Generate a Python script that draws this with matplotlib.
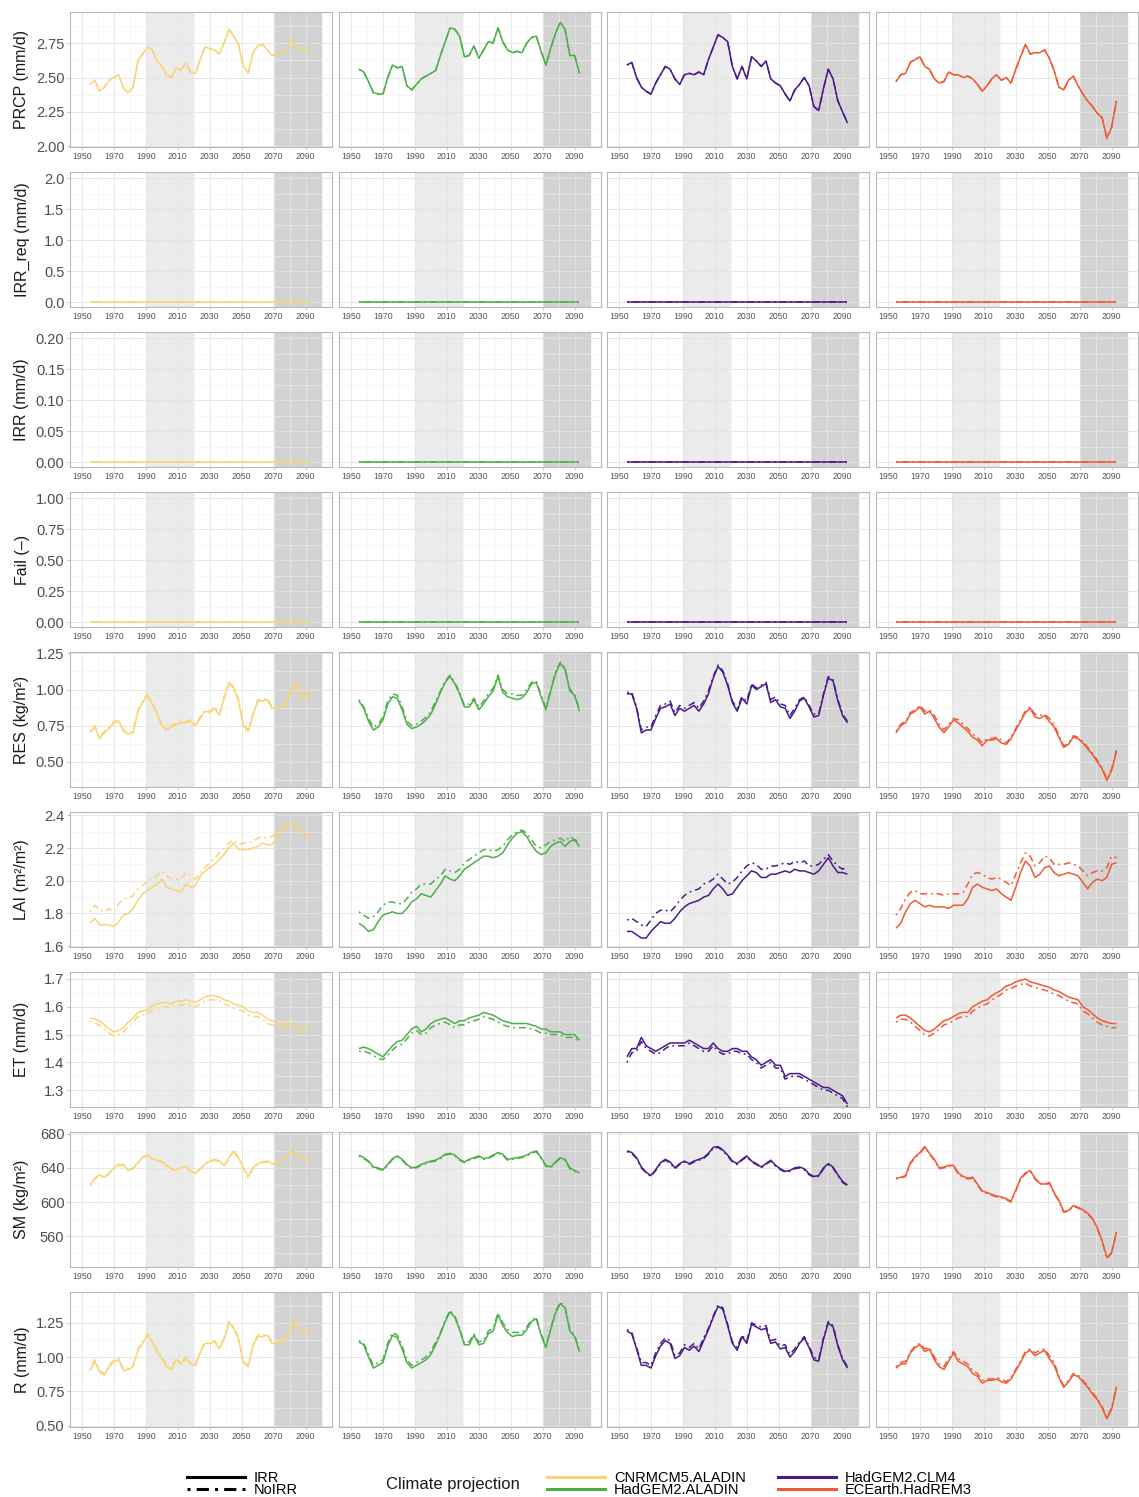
import numpy as np
import matplotlib
matplotlib.use("Agg")
import matplotlib.pyplot as plt
from matplotlib.lines import Line2D

plt.rcParams['font.family'] = ['Liberation Sans', 'DejaVu Sans']

# ---------------- data (10-yr running means, 3-yr sampling) ----
YEARS = list(range(1955, 2094, 3))

MODELS = ["CNRMCM5.ALADIN", "HadGEM2.ALADIN", "HadGEM2.CLM4", "ECEarth.HadREM3"]
COLORS = ["#F8D575", "#4DAF4A", "#4A1A8C", "#F05A35"]

PRCP_CNRM = [2.45,2.48,2.40,2.43,2.48,2.50,2.52,2.42,2.39,2.43,2.62,2.67,2.72,2.70,2.62,2.58,2.52,2.50,2.57,2.55,2.61,2.54,2.53,2.63,2.72,2.71,2.70,2.67,2.75,2.85,2.80,2.74,2.58,2.53,2.68,2.73,2.74,2.70,2.66,2.67,2.68,2.70,2.78,2.73,2.70,2.71,2.72]
PRCP_HADAL = [2.56,2.54,2.47,2.39,2.38,2.38,2.50,2.59,2.57,2.58,2.44,2.41,2.45,2.49,2.51,2.53,2.55,2.66,2.76,2.86,2.85,2.80,2.65,2.66,2.73,2.64,2.70,2.76,2.75,2.86,2.76,2.70,2.68,2.69,2.68,2.75,2.79,2.80,2.69,2.59,2.71,2.82,2.90,2.85,2.66,2.66,2.53]
PRCP_HADCLM = [2.59,2.61,2.50,2.43,2.40,2.38,2.46,2.52,2.58,2.56,2.49,2.45,2.52,2.53,2.52,2.54,2.52,2.63,2.72,2.81,2.79,2.76,2.58,2.49,2.58,2.49,2.65,2.62,2.58,2.62,2.49,2.46,2.44,2.38,2.33,2.41,2.45,2.50,2.44,2.29,2.26,2.42,2.56,2.49,2.33,2.25,2.17]
PRCP_ECE = [2.47,2.52,2.53,2.61,2.63,2.65,2.58,2.56,2.49,2.46,2.47,2.54,2.52,2.52,2.50,2.51,2.49,2.45,2.40,2.44,2.49,2.52,2.48,2.50,2.46,2.56,2.65,2.74,2.67,2.68,2.68,2.70,2.64,2.55,2.43,2.41,2.48,2.51,2.44,2.38,2.33,2.29,2.24,2.21,2.06,2.14,2.33]

# irrigation requirement, irrigation and failure are zero throughout
IRRREQ = [0.0] * len(YEARS)
IRR = [0.0] * len(YEARS)
FAIL = [0.0] * len(YEARS)

RES_IRR_CNRM = [0.70,0.74,0.66,0.70,0.73,0.77,0.78,0.71,0.69,0.70,0.85,0.91,0.96,0.90,0.83,0.75,0.72,0.74,0.76,0.77,0.77,0.78,0.75,0.80,0.85,0.84,0.87,0.82,0.94,1.04,1.01,0.92,0.75,0.71,0.82,0.92,0.92,0.93,0.87,0.87,0.88,0.90,1.00,1.04,0.94,0.95,0.98]
RES_NOIRR_CNRM = [0.71,0.75,0.67,0.71,0.74,0.78,0.79,0.72,0.70,0.71,0.86,0.92,0.97,0.91,0.84,0.76,0.73,0.75,0.77,0.78,0.78,0.79,0.76,0.81,0.86,0.85,0.88,0.83,0.95,1.05,1.02,0.93,0.76,0.72,0.83,0.93,0.93,0.94,0.88,0.88,0.89,0.91,1.01,1.05,0.95,0.96,0.99]
RES_IRR_HADAL = [0.92,0.87,0.78,0.72,0.74,0.79,0.90,0.95,0.94,0.86,0.76,0.73,0.74,0.76,0.79,0.83,0.90,0.98,1.05,1.09,1.04,0.97,0.88,0.88,0.93,0.86,0.90,0.95,0.99,1.09,0.98,0.95,0.94,0.93,0.94,0.98,1.04,1.05,0.95,0.86,0.99,1.11,1.18,1.14,0.99,0.96,0.85]
RES_NOIRR_HADAL = [0.93,0.88,0.80,0.74,0.76,0.81,0.92,0.97,0.96,0.88,0.78,0.75,0.76,0.78,0.81,0.85,0.92,0.99,1.06,1.10,1.05,0.98,0.89,0.90,0.94,0.88,0.92,0.97,1.01,1.10,1.00,0.97,0.97,0.96,0.96,1.00,1.05,1.06,0.96,0.87,1.00,1.12,1.19,1.15,1.00,0.97,0.86]
RES_IRR_HADCLM = [0.97,0.97,0.87,0.70,0.72,0.72,0.80,0.87,0.88,0.90,0.82,0.87,0.85,0.87,0.89,0.85,0.90,0.97,1.08,1.16,1.12,1.03,0.91,0.85,0.94,0.90,1.03,1.00,1.02,1.04,0.91,0.93,0.88,0.87,0.80,0.85,0.92,0.94,0.88,0.81,0.82,0.96,1.08,1.06,0.92,0.82,0.77]
RES_NOIRR_HADCLM = [0.98,0.98,0.88,0.72,0.74,0.74,0.82,0.89,0.90,0.92,0.84,0.89,0.87,0.89,0.91,0.87,0.92,0.99,1.09,1.17,1.13,1.04,0.92,0.87,0.95,0.92,1.04,1.01,1.03,1.05,0.93,0.95,0.90,0.89,0.82,0.87,0.93,0.95,0.89,0.83,0.83,0.97,1.09,1.07,0.93,0.83,0.78]
RES_IRR_ECE = [0.70,0.75,0.77,0.83,0.85,0.88,0.83,0.85,0.80,0.74,0.70,0.74,0.79,0.77,0.74,0.71,0.67,0.65,0.61,0.65,0.65,0.66,0.63,0.62,0.66,0.72,0.78,0.84,0.87,0.81,0.80,0.82,0.78,0.74,0.67,0.60,0.62,0.67,0.66,0.63,0.59,0.55,0.50,0.45,0.37,0.44,0.57]
RES_NOIRR_ECE = [0.71,0.76,0.78,0.84,0.86,0.89,0.85,0.86,0.82,0.76,0.72,0.76,0.80,0.79,0.76,0.73,0.69,0.67,0.63,0.66,0.66,0.67,0.65,0.63,0.67,0.73,0.79,0.85,0.88,0.83,0.82,0.83,0.80,0.76,0.68,0.61,0.63,0.68,0.67,0.64,0.60,0.56,0.51,0.46,0.38,0.45,0.58]

LAI_IRR_CNRM = [1.74,1.77,1.73,1.73,1.73,1.72,1.75,1.79,1.80,1.83,1.88,1.92,1.94,1.96,1.98,2.01,1.96,1.95,1.94,1.93,1.98,1.96,1.97,2.03,2.06,2.08,2.10,2.13,2.16,2.20,2.23,2.19,2.19,2.19,2.20,2.21,2.23,2.22,2.22,2.27,2.30,2.33,2.34,2.33,2.30,2.28,2.27]
LAI_NOIRR_CNRM = [1.81,1.85,1.82,1.81,1.83,1.81,1.86,1.89,1.89,1.91,1.95,1.97,2.00,2.01,2.03,2.06,2.03,2.01,2.01,2.01,2.05,2.03,2.01,2.05,2.08,2.11,2.14,2.17,2.20,2.23,2.25,2.22,2.23,2.23,2.24,2.26,2.27,2.26,2.27,2.30,2.32,2.35,2.36,2.34,2.31,2.29,2.28]
LAI_IRR_HADAL = [1.74,1.72,1.69,1.70,1.75,1.79,1.80,1.81,1.80,1.80,1.83,1.87,1.89,1.92,1.91,1.90,1.94,1.98,2.03,2.01,2.00,2.03,2.07,2.09,2.11,2.13,2.15,2.15,2.14,2.15,2.17,2.22,2.26,2.29,2.30,2.27,2.22,2.18,2.16,2.17,2.21,2.23,2.24,2.21,2.24,2.25,2.21]
LAI_NOIRR_HADAL = [1.81,1.79,1.77,1.78,1.81,1.85,1.87,1.87,1.86,1.86,1.89,1.93,1.95,1.98,1.98,1.98,2.01,2.03,2.07,2.06,2.05,2.07,2.11,2.13,2.15,2.17,2.19,2.19,2.18,2.19,2.21,2.25,2.28,2.30,2.31,2.29,2.25,2.21,2.20,2.22,2.24,2.25,2.26,2.24,2.27,2.25,2.24]
LAI_IRR_HADCLM = [1.69,1.69,1.67,1.65,1.65,1.69,1.72,1.75,1.74,1.74,1.77,1.81,1.84,1.86,1.87,1.88,1.90,1.91,1.95,1.98,1.95,1.91,1.92,1.96,2.00,2.03,2.06,2.05,2.02,2.02,2.04,2.04,2.05,2.06,2.05,2.07,2.06,2.06,2.05,2.04,2.06,2.10,2.14,2.09,2.05,2.05,2.04]
LAI_NOIRR_HADCLM = [1.76,1.77,1.75,1.73,1.72,1.76,1.80,1.82,1.82,1.81,1.84,1.88,1.91,1.93,1.94,1.95,1.98,1.99,2.01,2.04,2.01,1.98,1.99,2.02,2.06,2.09,2.11,2.10,2.07,2.07,2.09,2.09,2.10,2.11,2.10,2.12,2.11,2.12,2.09,2.09,2.10,2.13,2.16,2.12,2.09,2.07,2.09]
LAI_IRR_ECE = [1.71,1.74,1.81,1.86,1.88,1.86,1.84,1.85,1.84,1.84,1.84,1.83,1.85,1.85,1.85,1.89,1.96,1.98,1.96,1.95,1.94,1.95,1.92,1.90,1.88,1.96,2.05,2.12,2.09,2.02,2.04,2.08,2.09,2.05,2.03,2.04,2.05,2.04,2.03,1.99,1.95,1.99,2.01,2.00,2.02,2.10,2.11]
LAI_NOIRR_ECE = [1.79,1.83,1.89,1.93,1.94,1.92,1.92,1.92,1.92,1.92,1.91,1.92,1.92,1.92,1.93,1.98,2.04,2.05,2.04,2.02,2.01,2.02,2.01,1.99,1.97,2.04,2.11,2.17,2.15,2.09,2.11,2.15,2.14,2.10,2.10,2.10,2.11,2.10,2.09,2.06,2.03,2.05,2.06,2.06,2.08,2.15,2.14]

ET_IRR_CNRM = [1.56,1.555,1.55,1.535,1.52,1.51,1.515,1.525,1.545,1.56,1.58,1.585,1.59,1.605,1.61,1.615,1.615,1.61,1.62,1.62,1.625,1.62,1.615,1.625,1.635,1.64,1.64,1.635,1.625,1.62,1.61,1.605,1.60,1.585,1.58,1.58,1.57,1.555,1.55,1.545,1.535,1.54,1.54,1.525,1.525,1.525,1.53]
ET_NOIRR_CNRM = [1.55,1.54,1.535,1.52,1.505,1.495,1.50,1.51,1.53,1.545,1.565,1.57,1.575,1.59,1.595,1.60,1.60,1.595,1.605,1.605,1.61,1.605,1.60,1.61,1.62,1.625,1.625,1.62,1.61,1.605,1.595,1.59,1.585,1.57,1.565,1.565,1.555,1.54,1.535,1.53,1.52,1.525,1.525,1.51,1.51,1.51,1.515]
ET_IRR_HADAL = [1.45,1.455,1.45,1.44,1.43,1.42,1.44,1.46,1.475,1.48,1.50,1.52,1.53,1.51,1.52,1.54,1.55,1.555,1.56,1.55,1.54,1.55,1.55,1.56,1.565,1.57,1.58,1.575,1.57,1.56,1.55,1.545,1.54,1.54,1.54,1.54,1.535,1.53,1.52,1.52,1.51,1.51,1.51,1.50,1.50,1.50,1.48]
ET_NOIRR_HADAL = [1.44,1.44,1.435,1.425,1.415,1.41,1.425,1.445,1.46,1.465,1.485,1.505,1.515,1.50,1.505,1.525,1.535,1.54,1.545,1.535,1.525,1.535,1.535,1.545,1.55,1.555,1.565,1.56,1.555,1.545,1.535,1.53,1.525,1.525,1.525,1.525,1.52,1.515,1.505,1.505,1.50,1.50,1.50,1.49,1.49,1.49,1.47]
ET_IRR_HADCLM = [1.42,1.45,1.45,1.49,1.46,1.45,1.44,1.45,1.46,1.47,1.47,1.47,1.47,1.48,1.47,1.46,1.45,1.45,1.47,1.45,1.44,1.44,1.45,1.45,1.44,1.44,1.42,1.41,1.39,1.40,1.41,1.39,1.39,1.35,1.36,1.36,1.36,1.35,1.34,1.33,1.32,1.31,1.31,1.30,1.29,1.28,1.25]
ET_NOIRR_HADCLM = [1.40,1.435,1.44,1.475,1.45,1.44,1.43,1.435,1.45,1.46,1.46,1.46,1.46,1.47,1.46,1.45,1.44,1.44,1.46,1.44,1.43,1.43,1.44,1.44,1.43,1.43,1.41,1.40,1.38,1.39,1.40,1.38,1.38,1.34,1.35,1.35,1.35,1.34,1.33,1.32,1.31,1.30,1.30,1.29,1.28,1.27,1.24]
ET_IRR_ECE = [1.56,1.57,1.57,1.56,1.545,1.53,1.515,1.51,1.52,1.535,1.55,1.555,1.565,1.575,1.58,1.58,1.60,1.61,1.62,1.625,1.64,1.65,1.66,1.675,1.68,1.69,1.695,1.70,1.69,1.685,1.68,1.675,1.67,1.66,1.655,1.645,1.635,1.63,1.625,1.60,1.59,1.575,1.56,1.55,1.545,1.54,1.54]
ET_NOIRR_ECE = [1.545,1.555,1.555,1.545,1.53,1.515,1.50,1.495,1.505,1.52,1.535,1.54,1.55,1.56,1.565,1.565,1.585,1.595,1.605,1.61,1.625,1.635,1.645,1.66,1.665,1.675,1.68,1.685,1.675,1.67,1.665,1.66,1.655,1.645,1.64,1.63,1.62,1.615,1.61,1.585,1.575,1.56,1.545,1.535,1.53,1.525,1.525]

SM_IRR_CNRM = [620,628,632,629,634,640,644,644,637,640,646,653,655,651,649,648,643,639,638,640,642,636,634,639,645,648,650,648,643,652,660,652,640,630,640,645,647,648,645,646,648,653,660,657,652,650,648]
SM_NOIRR_CNRM = [619,627,631,628,633,639,643,643,636,639,645,652,654,650,648,647,642,638,637,639,641,635,633,638,644,647,649,647,642,651,659,651,639,629,639,644,646,647,644,645,647,652,659,656,651,649,647]
SM_IRR_HADAL = [655,652,648,641,640,638,644,651,654,650,644,640,641,644,646,648,649,652,656,657,655,650,647,650,652,654,651,652,655,658,656,650,651,652,653,655,658,660,652,643,641,647,652,650,640,637,634]
SM_NOIRR_HADAL = [654,651,647,640,639,637,643,650,653,649,643,639,640,643,645,647,648,651,655,656,654,649,646,649,651,653,650,651,654,657,655,649,650,651,652,654,657,659,651,642,640,646,651,649,639,636,633]
SM_IRR_HADCLM = [660,658,652,641,635,631,638,646,650,647,640,645,648,645,648,650,652,657,664,665,661,655,648,645,650,654,648,645,641,645,649,643,639,636,637,640,641,639,633,630,631,640,645,641,632,624,620]
SM_NOIRR_HADCLM = [659,657,651,640,634,630,637,645,649,646,639,644,647,644,647,649,651,656,663,664,660,654,647,644,649,653,647,644,640,644,648,642,638,635,636,639,640,638,632,629,630,639,644,640,631,623,619]
SM_IRR_ECE = [628,629,631,646,653,658,665,657,650,640,641,643,643,634,630,628,629,621,613,611,609,607,606,604,601,614,628,634,637,628,622,621,623,611,602,589,590,596,594,591,587,581,570,555,535,541,565]
SM_NOIRR_ECE = [627,628,630,645,652,657,664,656,649,639,640,642,642,633,629,627,628,620,612,610,608,606,605,603,600,613,627,633,636,627,621,620,622,610,601,588,589,595,593,590,586,580,569,554,534,540,564]

R_IRR_CNRM = [0.90,0.97,0.89,0.87,0.93,0.97,0.98,0.90,0.91,0.93,1.05,1.10,1.16,1.11,1.04,0.99,0.93,0.91,0.98,0.95,0.99,0.95,0.94,1.03,1.10,1.10,1.11,1.06,1.13,1.25,1.21,1.13,0.96,0.93,1.08,1.15,1.15,1.16,1.10,1.10,1.11,1.14,1.22,1.26,1.17,1.17,1.20]
R_NOIRR_CNRM = [0.91,0.98,0.90,0.88,0.94,0.98,0.99,0.91,0.92,0.94,1.06,1.11,1.17,1.12,1.05,1.00,0.94,0.92,0.99,0.96,1.00,0.96,0.95,1.04,1.11,1.11,1.12,1.07,1.14,1.26,1.22,1.14,0.97,0.94,1.09,1.16,1.16,1.17,1.11,1.11,1.12,1.15,1.23,1.27,1.18,1.18,1.21]
R_IRR_HADAL = [1.11,1.09,1.00,0.92,0.94,0.96,1.08,1.16,1.14,1.06,0.96,0.92,0.94,0.96,0.98,1.02,1.09,1.17,1.26,1.33,1.29,1.20,1.09,1.09,1.16,1.09,1.10,1.17,1.19,1.31,1.23,1.18,1.15,1.16,1.16,1.20,1.26,1.28,1.16,1.07,1.20,1.32,1.39,1.36,1.19,1.15,1.04]
R_NOIRR_HADAL = [1.12,1.10,1.02,0.94,0.96,0.98,1.10,1.18,1.16,1.08,0.98,0.94,0.96,0.98,1.00,1.04,1.11,1.18,1.27,1.34,1.30,1.21,1.10,1.11,1.17,1.11,1.12,1.19,1.21,1.32,1.25,1.20,1.18,1.18,1.18,1.22,1.27,1.29,1.17,1.08,1.21,1.33,1.40,1.37,1.20,1.16,1.05]
R_IRR_HADCLM = [1.19,1.17,1.06,0.94,0.94,0.92,1.01,1.08,1.12,1.10,0.99,1.01,1.07,1.05,1.08,1.04,1.12,1.20,1.29,1.37,1.35,1.23,1.10,1.05,1.15,1.10,1.24,1.22,1.20,1.21,1.10,1.11,1.06,1.07,1.00,1.04,1.10,1.14,1.07,0.98,0.97,1.13,1.25,1.22,1.08,0.98,0.92]
R_NOIRR_HADCLM = [1.20,1.18,1.07,0.96,0.96,0.94,1.03,1.10,1.14,1.12,1.01,1.03,1.09,1.07,1.10,1.06,1.14,1.21,1.30,1.38,1.36,1.24,1.11,1.07,1.16,1.12,1.25,1.23,1.22,1.23,1.12,1.13,1.08,1.09,1.02,1.06,1.11,1.15,1.08,1.00,0.98,1.14,1.26,1.23,1.09,0.99,0.93]
R_IRR_ECE = [0.92,0.95,0.95,1.03,1.07,1.09,1.04,1.06,0.98,0.93,0.91,0.97,1.03,0.97,0.95,0.93,0.88,0.86,0.81,0.83,0.83,0.84,0.82,0.81,0.84,0.90,0.96,1.03,1.05,1.01,1.03,1.05,0.99,0.94,0.85,0.78,0.82,0.87,0.86,0.82,0.78,0.73,0.69,0.63,0.55,0.62,0.78]
R_NOIRR_ECE = [0.93,0.96,0.97,1.04,1.08,1.10,1.06,1.07,1.00,0.95,0.93,0.99,1.04,0.99,0.97,0.95,0.90,0.88,0.83,0.84,0.84,0.85,0.84,0.82,0.85,0.91,0.97,1.04,1.06,1.03,1.05,1.06,1.01,0.96,0.86,0.79,0.83,0.88,0.87,0.83,0.79,0.74,0.70,0.64,0.56,0.63,0.79]

ROW_LABELS = ["PRCP (mm/d)", "IRR_req (mm/d)", "IRR (mm/d)", "Fail (\u2013)", "RES (kg/m\u00b2)",
              "LAI (m\u00b2/m\u00b2)", "ET (mm/d)", "SM (kg/m\u00b2)", "R (mm/d)"]
Y_TICKS = [[2.00, 2.25, 2.50, 2.75], [0.0, 0.5, 1.0, 1.5, 2.0], [0.00, 0.05, 0.10, 0.15, 0.20],
           [0.00, 0.25, 0.50, 0.75, 1.00], [0.50, 0.75, 1.00, 1.25], [1.6, 1.8, 2.0, 2.2, 2.4],
           [1.3, 1.4, 1.5, 1.6, 1.7], [560, 600, 640, 680], [0.50, 0.75, 1.00, 1.25]]
Y_FMT = ["{:.2f}", "{:.1f}", "{:.2f}", "{:.2f}", "{:.2f}", "{:.1f}", "{:.1f}", "{:.0f}", "{:.2f}"]
Y_LIMS = [(1.996, 2.975), (-0.08, 2.10), (-0.008, 0.21), (-0.04, 1.05), (0.325, 1.26),
          (1.595, 2.42), (1.24, 1.725), (524, 682), (0.49, 1.475)]
X_TICKS = [1950, 1970, 1990, 2010, 2030, 2050, 2070, 2090]
X_MINOR = [1960, 1980, 2000, 2020, 2040, 2060, 2080, 2100]

# series per row: list over models of (IRR, NoIRR)
ROWS = [
    [(PRCP_CNRM, PRCP_CNRM), (PRCP_HADAL, PRCP_HADAL), (PRCP_HADCLM, PRCP_HADCLM), (PRCP_ECE, PRCP_ECE)],
    [(IRRREQ, IRRREQ)] * 4,
    [(IRR, IRR)] * 4,
    [(FAIL, FAIL)] * 4,
    [(RES_IRR_CNRM, RES_NOIRR_CNRM), (RES_IRR_HADAL, RES_NOIRR_HADAL), (RES_IRR_HADCLM, RES_NOIRR_HADCLM), (RES_IRR_ECE, RES_NOIRR_ECE)],
    [(LAI_IRR_CNRM, LAI_NOIRR_CNRM), (LAI_IRR_HADAL, LAI_NOIRR_HADAL), (LAI_IRR_HADCLM, LAI_NOIRR_HADCLM), (LAI_IRR_ECE, LAI_NOIRR_ECE)],
    [(ET_IRR_CNRM, ET_NOIRR_CNRM), (ET_IRR_HADAL, ET_NOIRR_HADAL), (ET_IRR_HADCLM, ET_NOIRR_HADCLM), (ET_IRR_ECE, ET_NOIRR_ECE)],
    [(SM_IRR_CNRM, SM_NOIRR_CNRM), (SM_IRR_HADAL, SM_NOIRR_HADAL), (SM_IRR_HADCLM, SM_NOIRR_HADCLM), (SM_IRR_ECE, SM_NOIRR_ECE)],
    [(R_IRR_CNRM, R_NOIRR_CNRM), (R_IRR_HADAL, R_NOIRR_HADAL), (R_IRR_HADCLM, R_NOIRR_HADCLM), (R_IRR_ECE, R_NOIRR_ECE)],
]

for ri, row in enumerate(ROWS):
    for ci, (a, b) in enumerate(row):
        assert len(a) == len(YEARS) and len(b) == len(YEARS), (ri, ci, len(a), len(b))

# ---------------- layout ----------------
W, H = 1139, 1497
fig = plt.figure(figsize=(W / 100, H / 100), dpi=100)
COL_LEFT = [70, 339, 607, 876]
PW, PH = 262, 135
ROW_TOP = [12 + 160 * i for i in range(9)]
DASH = (0, (1.2, 2.5, 4.5, 2.5))

for ri, row in enumerate(ROWS):
    for ci, (irr, noirr) in enumerate(row):
        l = COL_LEFT[ci] / W
        b = 1 - (ROW_TOP[ri] + PH) / H
        ax = fig.add_axes([l, b, PW / W, PH / H])
        ax.axvspan(1990, 2020, color="#EBEBEB", zorder=0.5, lw=0)
        ax.axvspan(2070, 2100, color="#D3D3D3", zorder=0.5, lw=0)
        ax.set_xticks(X_TICKS)
        ax.set_xticks(X_MINOR, minor=True)
        yt = Y_TICKS[ri]
        ax.set_yticks(yt)
        step = yt[1] - yt[0]
        ax.set_yticks([v + step / 2 for v in [yt[0] - step] + yt], minor=True)
        ax.grid(which="major", color="#E3E3E3", lw=0.6, zorder=0.6)
        ax.grid(which="minor", color="#F1F1F1", lw=0.4, zorder=0.6)
        ax.set_axisbelow(True)
        ax.plot(YEARS, irr, color=COLORS[ci], lw=1.1, solid_capstyle="butt", zorder=3)
        ax.plot(YEARS, noirr, color=COLORS[ci], lw=1.1, ls=DASH, zorder=3)
        # limits set last so that tick setting cannot widen them
        ax.set_xlim(1942.5, 2106.5)
        ax.set_ylim(*Y_LIMS[ri])
        for s in ax.spines.values():
            s.set_color("#B8B8B8")
            s.set_linewidth(0.8)
        ax.tick_params(axis="x", which="major", labelsize=6.3, colors="#B8B8B8",
                       labelcolor="#555555", length=2, width=0.5, pad=1.5)
        ax.tick_params(which="minor", length=0)
        if ci == 0:
            ax.set_yticklabels([Y_FMT[ri].format(v) for v in yt])
            ax.tick_params(axis="y", which="major", labelsize=10.5, colors="#B8B8B8",
                           labelcolor="#4D4D4D", length=2.5, width=0.6, pad=1.5)
            fig.text(22 / W, 1 - (ROW_TOP[ri] + PH / 2) / H, ROW_LABELS[ri], rotation=90,
                     ha="center", va="center", fontsize=11.5, color="#1A1A1A")
        else:
            ax.tick_params(axis="y", which="major", length=0, labelleft=False)

# ---------------- legends ----------------
ly = 1 - 1484 / H
h1 = [Line2D([], [], color="black", lw=2.2), Line2D([], [], color="black", lw=2.2, ls=(0, (1, 2, 4, 2)))]
leg1 = fig.legend(h1, ["IRR", "NoIRR"], loc="center left", bbox_to_anchor=(187 / W, ly),
                  frameon=False, fontsize=10.5, handlelength=4.0, handletextpad=0.6,
                  labelspacing=-0.1, borderpad=0, borderaxespad=0)
fig.text(386 / W, ly, "Climate projection", ha="left", va="center", fontsize=12, color="#1A1A1A")
h2 = [Line2D([], [], color=c, lw=2.2) for c in COLORS]
leg2 = fig.legend(h2, MODELS, loc="center left", bbox_to_anchor=(547 / W, ly), ncol=2,
                  frameon=False, fontsize=10.5, handlelength=4.0, handletextpad=0.6,
                  labelspacing=-0.1, columnspacing=2.2, borderpad=0, borderaxespad=0)

fig.savefig("out.png", dpi=100)
